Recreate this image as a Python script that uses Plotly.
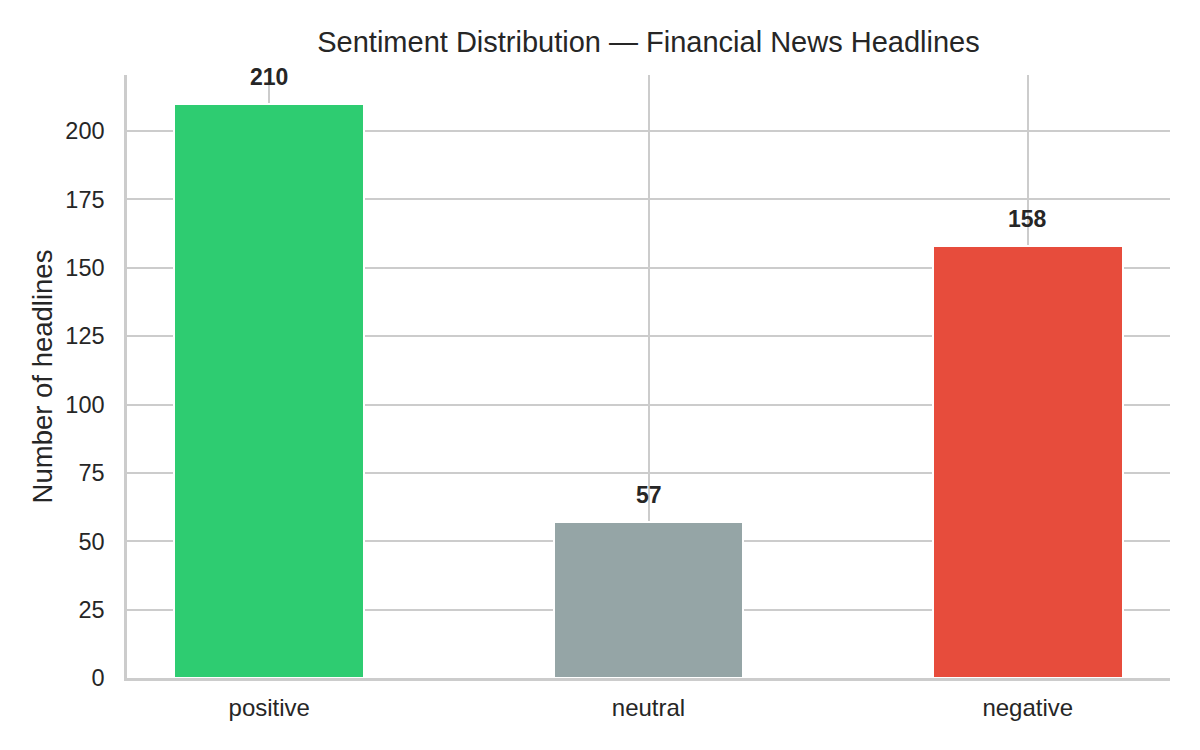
import plotly.graph_objects as go

categories = ["positive", "neutral", "negative"]
counts = [210, 57, 158]
colors = ["#2ecc71", "#95a5a6", "#e74c3c"]
y_ticks = [0, 25, 50, 75, 100, 125, 150, 175, 200]

FONT = "Liberation Sans, Arial, sans-serif"

fig = go.Figure()
fig.add_trace(go.Bar(
    x=categories, y=counts, width=0.5,
    marker=dict(color=colors, line=dict(color="white", width=2)),
    showlegend=False, hoverinfo="skip",
))
for c, v in zip(categories, counts):
    fig.add_annotation(x=c, y=v, text=f"<b>{v}</b>", showarrow=False,
                       yshift=27, font=dict(size=23, color="#262626", family=FONT))

fig.update_layout(
    width=1200, height=750,
    margin=dict(l=119, r=38, t=67, b=80),
    paper_bgcolor="white", plot_bgcolor="white",
    font=dict(family=FONT, color="#262626", size=24),
    title=dict(text="Sentiment Distribution — Financial News Headlines",
               x=0.5, xanchor="center", xref="paper", y=0.9547, yanchor="middle",
               font=dict(size=29, color="#262626")),
    xaxis=dict(range=[-0.375, 2.375], showgrid=True, gridcolor="#cccccc", gridwidth=2,
               showline=True, linecolor="#cccccc", linewidth=2.5, ticks="",
               tickfont=dict(size=24), ticklabelstandoff=6, layer="below traces"),
    yaxis=dict(range=[0, 220.5], tickvals=y_ticks, showgrid=True, gridcolor="#cccccc",
               gridwidth=2, showline=True, linecolor="#cccccc", linewidth=2.5,
               ticks="", zeroline=False, tickfont=dict(size=23.5), ticklabelstandoff=15,
               title=dict(text="Number of headlines", font=dict(size=27.5), standoff=5),
               layer="below traces"),
    bargap=0,
)

fig.write_html("out.html")
